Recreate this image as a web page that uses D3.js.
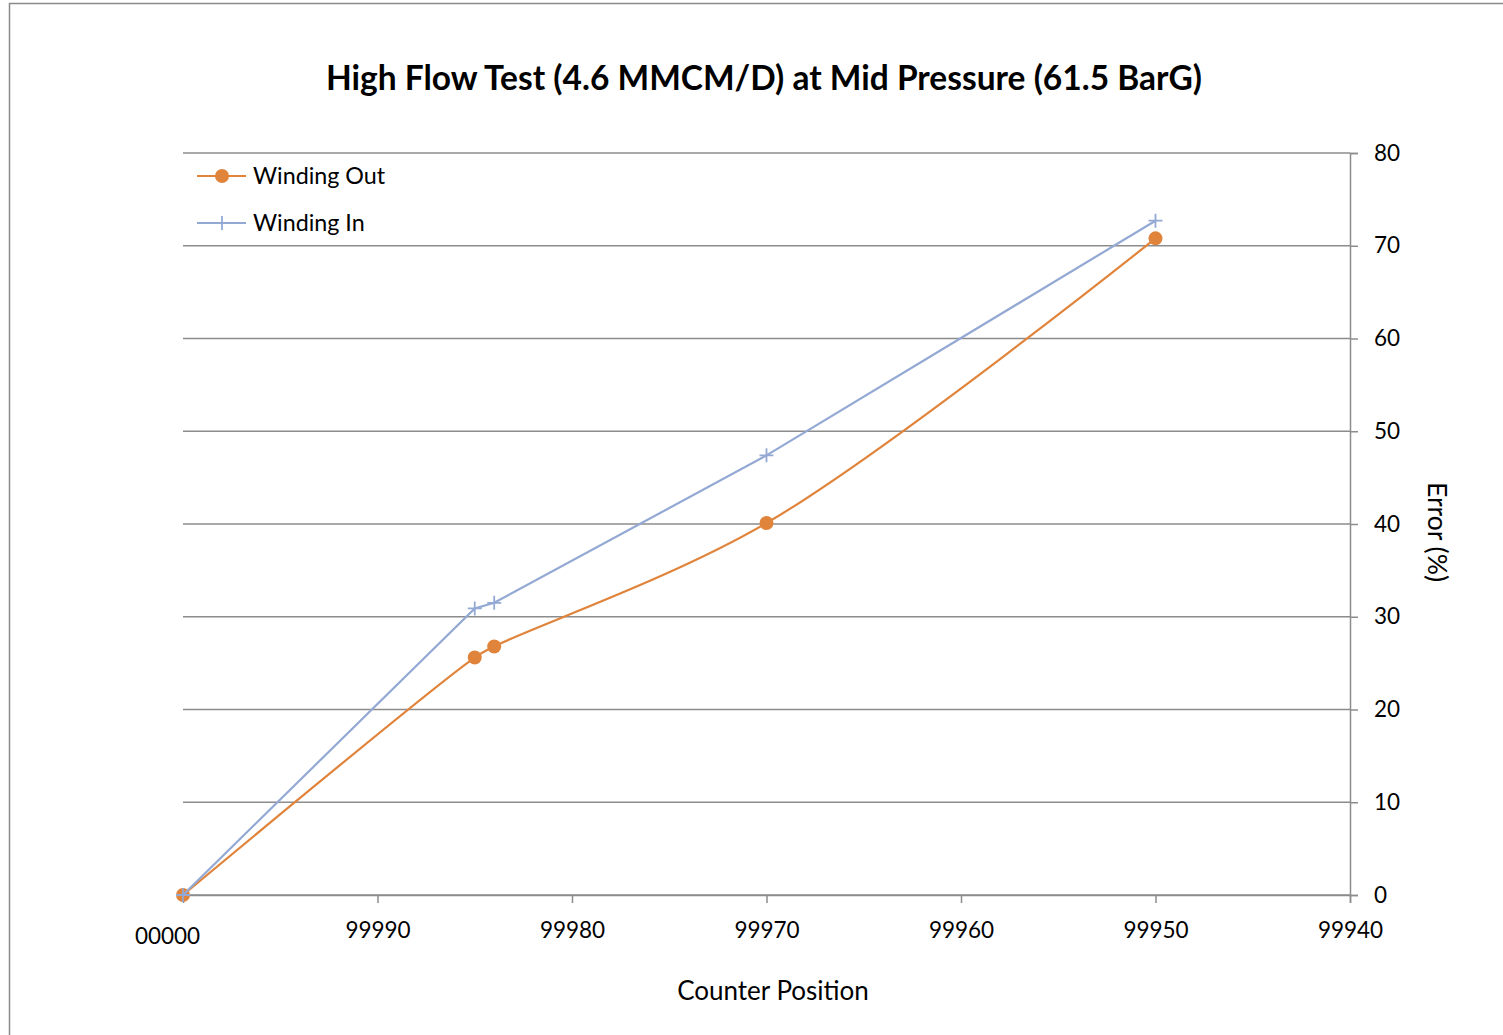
<!DOCTYPE html>
<html>
<head>
<meta charset="utf-8">
<script src="https://cdn.jsdelivr.net/npm/d3@7"></script>
<style>
  body { margin: 0; background: #fff; }
  svg text { font-family: Lato, "Open Sans", sans-serif; fill: #000; }
</style>
</head>
<body>
<svg id="svg"></svg>
<script>
// data
const title = "High Flow Test (4.6 MMCM/D) at Mid Pressure (61.5 BarG)";
const seriesNames = ["Winding Out", "Winding In"];

const outCounter = ["00000", "99985", "99984", "99970", "99950"];
const outError = [0, 25.6, 26.8, 40.1, 70.8];

const inCounter = ["00000", "99985", "99984", "99970", "99950"];
const inError = [0, 30.9, 31.5, 47.4, 72.7];

const xTicks = ["00000", "99990", "99980", "99970", "99960", "99950", "99940"];
const yTicks = [0, 10, 20, 30, 40, 50, 60, 70, 80];

const width = 1503;
const height = 1035;
const orange = "#e0843c";
const blue = "#93a9d4";
const grey = "#8c8c8c";

let svg = d3.select("#svg").attr("width", width).attr("height", height);

// counter counts down from 00000 (wraps), so turn it into steps travelled
function steps(c) {
    return (100000 - Number(c)) % 100000;
}

const margin = { top: 153, right: 153, bottom: 140, left: 183 };
const chartWidth = width - margin.left - margin.right;
const chartHeight = height - margin.top - margin.bottom;

const xScale = d3.scaleLinear()
    .domain([0, steps(xTicks[xTicks.length - 1])])
    .range([0, chartWidth]);

const yScale = d3.scaleLinear()
    .domain([0, 80])
    .range([chartHeight, 0]);

// chart frame
svg.append("rect")
    .attr("x", 9.5).attr("y", 3.5)
    .attr("width", width + 10).attr("height", height + 10)
    .attr("fill", "none")
    .attr("stroke", "#8a8a8a")
    .attr("stroke-width", 1.5);

svg.append("text")
    .attr("x", 764)
    .attr("y", 90)
    .attr("text-anchor", "middle")
    .style("font-size", "33.5px")
    .style("font-weight", "bold")
    .text(title);

let chart = svg.append("g")
    .attr("transform", "translate(" + margin.left + "," + margin.top + ")");

// horizontal gridlines
chart.selectAll(".grid")
    .data(yTicks)
    .enter().append("line")
    .attr("class", "grid")
    .attr("x1", 0)
    .attr("x2", chartWidth)
    .attr("y1", d => yScale(d))
    .attr("y2", d => yScale(d))
    .attr("stroke", grey)
    .attr("stroke-width", 1.5);

// x axis
let xAxis = chart.append("g")
    .attr("class", "x-axis")
    .attr("transform", `translate(0,${chartHeight})`)
    .call(d3.axisBottom(xScale)
        .tickValues(xTicks.map(steps))
        .tickSize(8)
        .tickPadding(13)
        .tickFormat((d, i) => xTicks[i]));

xAxis.select(".domain").attr("stroke", grey).attr("stroke-width", 1.5);
xAxis.selectAll(".tick line").attr("stroke", grey).attr("stroke-width", 1.5);
xAxis.selectAll(".tick").filter((d, i) => i === 0).select("line").remove();
xAxis.selectAll(".tick text")
    .style("font-size", "22.5px")
    .attr("dy", (d, i) => i === 0 ? "1.25em" : "0.98em")
    .attr("dx", (d, i) => i === 0 ? "-16px" : "0");

// y axis on the right
let yAxis = chart.append("g")
    .attr("class", "y-axis")
    .attr("transform", `translate(${chartWidth},0)`)
    .call(d3.axisRight(yScale)
        .tickValues(yTicks)
        .tickSize(8)
        .tickPadding(16));

yAxis.select(".domain").attr("stroke", grey).attr("stroke-width", 1.5);
yAxis.selectAll(".tick line").attr("stroke", grey).attr("stroke-width", 1.5);
yAxis.selectAll(".tick text").style("font-size", "22.5px");

// axis titles
svg.append("text")
    .attr("x", 773)
    .attr("y", 1000)
    .attr("text-anchor", "middle")
    .style("font-size", "26px")
    .text("Counter Position");

svg.append("text")
    .attr("transform", "translate(1428,532) rotate(90)")
    .attr("text-anchor", "middle")
    .style("font-size", "26.5px")
    .text("Error (%)");

// series
const outData = outCounter.map((c, i) => ({ x: steps(c), y: outError[i] }));
const inData = inCounter.map((c, i) => ({ x: steps(c), y: inError[i] }));

const smoothLine = d3.line()
    .x(d => xScale(d.x))
    .y(d => yScale(d.y))
    .curve(d3.curveCatmullRom.alpha(0.5));

const straightLine = d3.line()
    .x(d => xScale(d.x))
    .y(d => yScale(d.y));

chart.append("path")
    .datum(outData)
    .attr("d", smoothLine)
    .attr("fill", "none")
    .attr("stroke", orange)
    .attr("stroke-width", 2.2);

chart.selectAll(".out-dot")
    .data(outData)
    .enter().append("circle")
    .attr("class", "out-dot")
    .attr("cx", d => xScale(d.x))
    .attr("cy", d => yScale(d.y))
    .attr("r", 7)
    .attr("fill", orange);

chart.append("path")
    .datum(inData)
    .attr("d", straightLine)
    .attr("fill", "none")
    .attr("stroke", blue)
    .attr("stroke-width", 2.2);

function plusPath(cx, cy, s) {
    return `M${cx - s},${cy}H${cx + s}M${cx},${cy - s}V${cy + s}`;
}

chart.selectAll(".in-mark")
    .data(inData)
    .enter().append("path")
    .attr("class", "in-mark")
    .attr("d", d => plusPath(xScale(d.x), yScale(d.y), 7))
    .attr("stroke", blue)
    .attr("stroke-width", 1.8);

// legend
let legend = svg.append("g");
const legendY = [176, 223];
const legendColours = [orange, blue];

seriesNames.forEach((name, i) => {
    legend.append("line")
        .attr("x1", 197).attr("x2", 246)
        .attr("y1", legendY[i]).attr("y2", legendY[i])
        .attr("stroke", legendColours[i])
        .attr("stroke-width", 2.2);
    if (i === 0) {
        legend.append("circle")
            .attr("cx", 222).attr("cy", legendY[i])
            .attr("r", 7).attr("fill", orange);
    } else {
        legend.append("path")
            .attr("d", plusPath(222, legendY[i], 7))
            .attr("stroke", blue).attr("stroke-width", 1.8);
    }
    legend.append("text")
        .attr("x", 253)
        .attr("y", legendY[i] + 8)
        .style("font-size", "23.3px")
        .text(name);
});
</script>
</body>
</html>
